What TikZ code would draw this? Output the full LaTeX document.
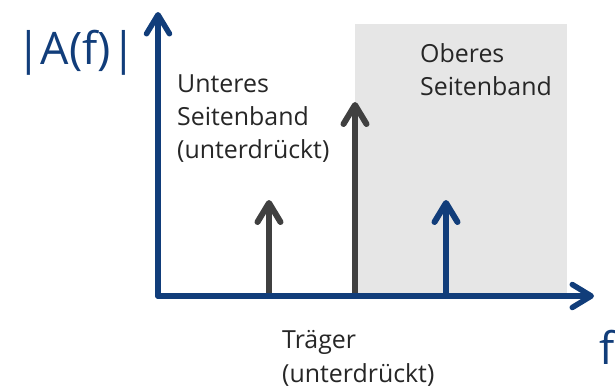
\documentclass[tikz,border=0pt]{standalone}
\usepackage{fontspec}
\setmainfont{Open Sans}
\usetikzlibrary{arrows.meta}
\definecolor{axisblue}{RGB}{17,61,122}
\definecolor{linegray}{RGB}{64,64,64}
\definecolor{bandgray}{RGB}{230,230,230}
\definecolor{textgray}{RGB}{38,38,38}
\tikzset{
  barb/.style={-{Straight Barb[length=19bp,width=23bp,round]}},
  axisline/.style={barb, draw=axisblue, line width=5.5bp, line cap=round},
  specline/.style={barb, line width=6bp, line cap=butt},
  label/.style={anchor=base west, inner sep=0pt, text=textgray, font=\fontsize{25}{25}\selectfont},
  biglabel/.style={inner sep=0pt, text=axisblue, font=\fontsize{45}{45}\selectfont}
}
\begin{document}
\begin{tikzpicture}[x=1bp,y=-1bp]
  \useasboundingbox (0,0) rectangle (615,388);
  % upper sideband region
  \fill[bandgray] (355,24) rectangle (567,296);
  % axes
  \coordinate (O) at (158,296);
  \coordinate (ytop) at (158,12);
  \coordinate (xend) at (594,296);
  % spectral lines: lower sideband, carrier, upper sideband
  \coordinate (lsbfoot) at (269,296);
  \coordinate (lsbtip) at (269,200);
  \coordinate (carfoot) at (355,296);
  \coordinate (cartip) at (355,102);
  \coordinate (usbfoot) at (446,296);
  \coordinate (usbtip) at (446,200);
  \draw[specline, draw=linegray] (lsbfoot) -- (lsbtip);
  \draw[specline, draw=linegray] (carfoot) -- (cartip);
  \draw[specline, draw=axisblue] (usbfoot) -- (usbtip);
  \draw[axisline] (O) -- (ytop);
  \draw[axisline] (O) -- (xend);
  % labels
  \node[biglabel, anchor=base west] (amp) at (16,64) {|A(f)|};
  \node[biglabel, anchor=base east] (freq) at (615,364) {f};
  \node[label] (lsb1) at (177,92) {Unteres};
  \node[label] (lsb2) at (177,125) {Seitenband};
  \node[label] (lsb3) at (177,158) {(unterdrückt)};
  \node[label] (usb1) at (420,62) {Oberes};
  \node[label] (usb2) at (420,95) {Seitenband};
  \node[label] (car1) at (282,348) {Träger};
  \node[label] (car2) at (282,382) {(unterdrückt)};
\end{tikzpicture}
\end{document}
